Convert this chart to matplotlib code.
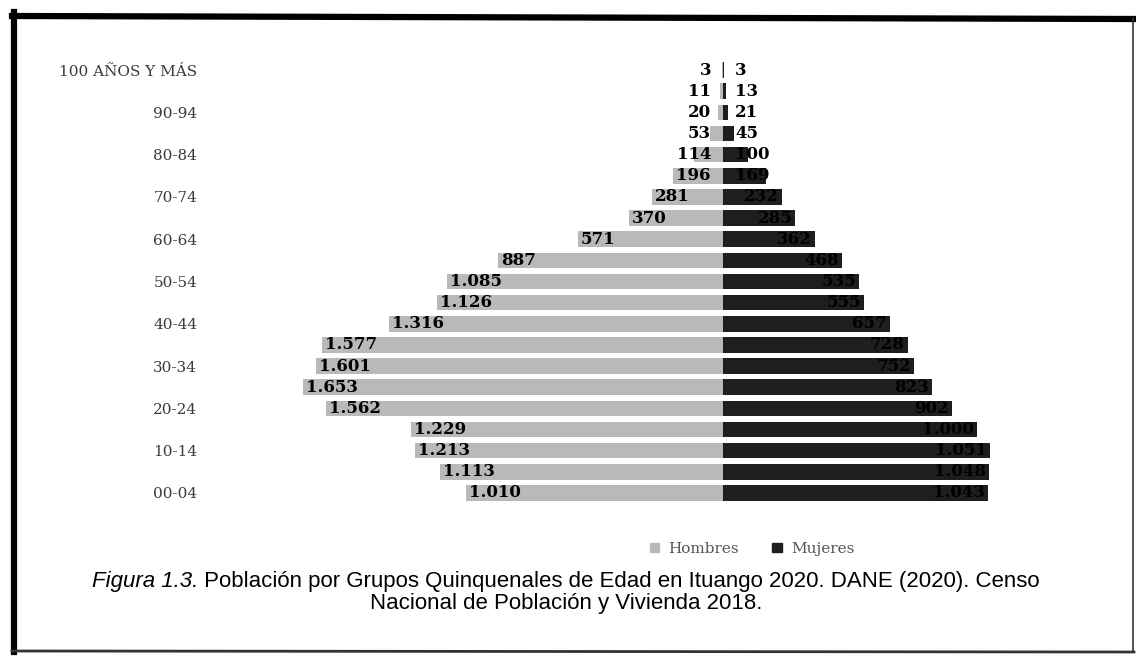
import matplotlib.pyplot as plt
import matplotlib.patches as mpatches

# --- Data (bottom to top) ---
age_groups = ['00-04', '05-09', '10-14', '15-19', '20-24', '25-29', '30-34',
              '35-39', '40-44', '45-49', '50-54', '55-59', '60-64', '65-69',
              '70-74', '75-79', '80-84', '85-89', '90-94', '95-99',
              '100 AÑOS Y MÁS']
hombres = [1010, 1113, 1213, 1229, 1562, 1653, 1601, 1577, 1316, 1126, 1085,
           887, 571, 370, 281, 196, 114, 53, 20, 11, 3]
mujeres = [1043, 1048, 1051, 1000, 902, 823, 752, 728, 657, 555, 535,
           468, 362, 285, 232, 169, 100, 45, 21, 13, 3]

def fmt(v):
    return f'{v:,}'.replace(',', '.')

color_h = '#b9b9b9'
color_m = '#1e1e1e'
serif = ['DejaVu Serif']

W, H = 1136, 664
fig = plt.figure(figsize=(W / 100, H / 100), dpi=100)

# --- Frame like the scanned page ---
fig.add_artist(plt.Line2D([14 / W, 14 / W], [1 - 12 / H, 1 - 652 / H], color='black', lw=4.5))
fig.add_artist(plt.Line2D([12 / W, 1.0], [1 - 16 / H, 1 - 19 / H], color='black', lw=4.5))
fig.add_artist(plt.Line2D([1133 / W, 1133 / W], [1 - 18 / H, 1 - 652 / H], color='#333333', lw=1.2))
fig.add_artist(plt.Line2D([12 / W, 1134 / W], [1 - 651 / H, 1 - 652 / H], color='#333333', lw=2))

# --- Pyramid axes ---
left_px, right_px, top_px, bot_px = 300, 1010, 58, 505
ax = fig.add_axes([left_px / W, 1 - bot_px / H, (right_px - left_px) / W, (bot_px - top_px) / H])
scale = 0.254  # px per person
center_px = 723
ax.set_xlim(-(center_px - left_px) / scale, (right_px - center_px) / scale)
ax.set_ylim(-0.57, len(age_groups) - 1 + 0.57)

y = list(range(len(age_groups)))
ax.barh(y, [-v for v in hombres], height=0.74, color=color_h, label='Hombres')
ax.barh(y, mujeres, height=0.74, color=color_m, label='Mujeres')

ax.set_yticks(y[::2])
ax.set_yticklabels(age_groups[::2], family=serif, fontsize=11, color='#3a3a3a')
ax.tick_params(axis='y', length=0, pad=74)
ax.set_xticks([])
for s in ax.spines.values():
    s.set_visible(False)

# --- Data labels ---
fig.canvas.draw()
renderer = fig.canvas.get_renderer()
px_unit = ax.transData.transform((1, 0))[0] - ax.transData.transform((0, 0))[0]
pad = 3 / px_unit
gap = 12 / px_unit

for i, v in enumerate(hombres):
    t = ax.text(-v, i, fmt(v), family=serif, fontweight='bold', fontsize=12,
                color='black', va='center', ha='left')
    w = t.get_window_extent(renderer).width / px_unit
    x0 = -v + pad
    if x0 + w > -gap:
        x0 = -gap - w
    t.set_x(x0)

for i, v in enumerate(mujeres):
    t = ax.text(v, i, fmt(v), family=serif, fontweight='bold', fontsize=12,
                color='black', va='center', ha='left')
    w = t.get_window_extent(renderer).width / px_unit
    x0 = v - pad - w
    if x0 < gap:
        x0 = gap
    t.set_x(x0)

# --- Legend ---
handles = [mpatches.Patch(color=color_h, label='Hombres'),
           mpatches.Patch(color=color_m, label='Mujeres')]
fig.legend(handles=handles, loc='center', bbox_to_anchor=(752 / W, 1 - 549 / H),
           ncol=2, frameon=False, prop={'family': serif, 'size': 11},
           labelcolor='#555555', handlelength=0.6, handleheight=0.6,
           handletextpad=0.6, columnspacing=2.2)

# --- Caption ---
cap_font = ['Liberation Sans', 'DejaVu Sans']
t1 = fig.text(0, 1 - 581 / H, 'Figura 1.3.', family=cap_font, style='italic',
              fontsize=16, ha='left', va='center')
t2 = fig.text(0, 1 - 581 / H,
              ' Población por Grupos Quinquenales de Edad en Ituango 2020. DANE (2020). Censo',
              family=cap_font, fontsize=16, ha='left', va='center')
w1 = t1.get_window_extent(renderer).width
w2 = t2.get_window_extent(renderer).width
start = 566 - (w1 + w2) / 2
t1.set_x(start / W)
t2.set_x((start + w1) / W)
fig.text(566 / W, 1 - 604 / H, 'Nacional de Población y Vivienda 2018.',
         family=cap_font, fontsize=16, ha='center', va='center')

fig.savefig('out.png', dpi=100)
plt.close(fig)
